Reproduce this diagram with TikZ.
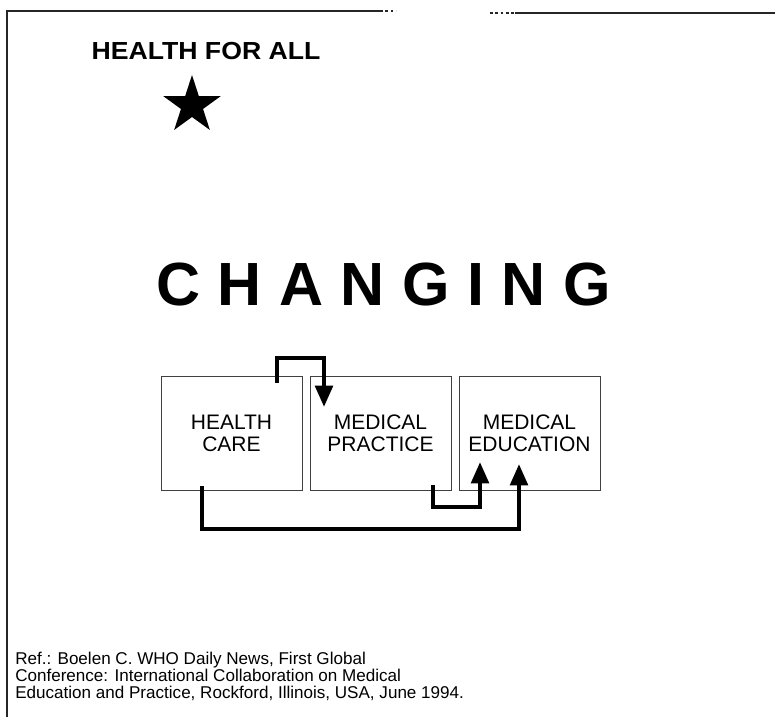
\documentclass[tikz,border=0pt]{standalone}
\usepackage{fontspec}
\setmainfont{Liberation Sans}
\usetikzlibrary{arrows.meta}
\begin{document}
\begin{tikzpicture}[x=0.75pt,y=-0.75pt,
  box/.style={draw=black!75, line width=0.6pt, minimum width=105.75pt,
    minimum height=85.5pt, inner sep=0pt, align=center,
    font=\fontsize{15.75}{16.5}\selectfont},
  link/.style={line width=3.3pt, line join=miter,
    -{Triangle[width=13pt,length=16pt]}},
  frameline/.style={draw=black!85, line width=1.1pt},
  refnote/.style={anchor=base west, inner sep=0pt,
    font=\fontsize{12.8}{14}\selectfont}
]
\useasboundingbox (0,0) rectangle (775,717);

% page frame (left and top edges)
\draw[frameline] (7,717) -- (7,11) -- (380,11);
\draw[frameline, dash pattern=on 2pt off 2pt] (380,11) -- (396,11);
\draw[frameline, line width=1.5pt, dash pattern=on 2pt off 2pt] (490,13) -- (515,13);
\draw[frameline, line width=2pt] (515,13) -- (775,13);

% heading and star
\node[font=\bfseries\fontsize{18.5}{20}\selectfont\addfontfeature{FakeStretch=1.08},
      anchor=base, inner sep=0pt] (motto) at (206,60) {HEALTH FOR ALL};
\coordinate (star) at (192,105.4);
\fill ([shift={(270:30.4)}]star) -- ([shift={(306:11.6)}]star)
   -- ([shift={(342:30.4)}]star) -- ([shift={(18:11.6)}]star)
   -- ([shift={(54:30.4)}]star)  -- ([shift={(90:11.6)}]star)
   -- ([shift={(126:30.4)}]star) -- ([shift={(162:11.6)}]star)
   -- ([shift={(198:30.4)}]star) -- ([shift={(234:11.6)}]star) -- cycle;

% title
\node[font=\bfseries\fontsize{45.75}{50}\selectfont, anchor=base, inner sep=0pt]
  (title) at (383.5,305)
  {C\kern13.1pt H\kern13.1pt A\kern13.1pt N\kern13.1pt G\kern13.1pt I\kern13.1pt N\kern13.1pt G};

% the three fields
\node[box] (hc) at (231.5,433) {HEALTH\\CARE};
\node[box] (mp) at (380.5,433) {MEDICAL\\PRACTICE};
\node[box] (me) at (529.5,433) {MEDICAL\\EDUCATION};

% influences between the fields
\coordinate (a1s) at (277,383);
\coordinate (a1e) at (324,407);
\draw[link] (a1s) -- ++(0,-25) -| (a1e);

\coordinate (a2s) at (433,485);
\coordinate (a2e) at (480,462);
\draw[link] (a2s) -- ++(0,22) -| (a2e);

\coordinate (a3s) at (202,486);
\coordinate (a3e) at (519,464);
\draw[link] (a3s) -- ++(0,43) -| (a3e);

% source note
\node[refnote] (ref1) at (15,664) {Ref.: Boelen C. WHO Daily News, First Global};
\node[refnote] (ref2) at (15,681) {Conference: International Collaboration on Medical};
\node[refnote] (ref3) at (15,698) {Education and Practice, Rockford, Illinois, USA, June 1994.};
\end{tikzpicture}
\end{document}
